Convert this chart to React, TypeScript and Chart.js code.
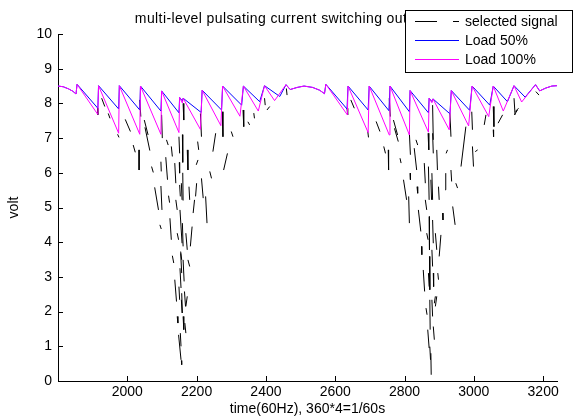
import React, { useEffect, useRef } from 'react';
import { Chart, registerables } from 'chart.js';

Chart.register(...registerables);

const X_MIN = 1800;
const X_MAX = 3240;
const xTickValues = [2000, 2200, 2400, 2600, 2800, 3000, 3200];
const yTickValues = [0, 1, 2, 3, 4, 5, 6, 7, 8, 9, 10];

const titleText = 'multi-level pulsating current switching output voltage';
const xLabel = 'time(60Hz), 360*4=1/60s';
const yLabel = 'volt';
const legendLabels = ['selected signal', 'Load 50%', 'Load 100%'];
const seriesColors = ['#000000', '#0000ff', '#ff00ff'];

// Load 50% (blue) vertices
const load50X = [
  1800, 1815, 1830, 1843, 1852, 1855, 1915, 1917, 1975, 1977, 2036, 2038, 2097, 2099,
  2149, 2151, 2159, 2161, 2213, 2216, 2272, 2275, 2330, 2335, 2382, 2396, 2440, 2458,
  2470, 2490, 2510, 2535, 2555, 2569, 2573, 2634, 2637, 2695, 2698, 2755, 2758, 2814,
  2816, 2869, 2871, 2879, 2882, 2931, 2935, 2988, 2995, 3046, 3056, 3097, 3116, 3148,
  3178, 3190, 3207, 3225, 3240,
];
const load50Y = [
  8.5, 8.48, 8.42, 8.35, 8.27, 8.55, 7.86, 8.51, 7.84, 8.51, 7.81, 8.5, 7.78, 8.36,
  7.73, 8.17, 8.07, 8.15, 7.74, 8.38, 7.81, 8.5, 7.95, 8.5, 8.05, 8.51, 8.2, 8.54,
  8.4, 8.46, 8.5, 8.46, 8.38, 8.28, 8.55, 7.84, 8.5, 7.81, 8.5, 7.79, 8.5, 7.76,
  8.37, 7.73, 8.15, 8.05, 8.13, 7.7, 8.37, 7.8, 8.5, 7.95, 8.5, 8.05, 8.51, 8.18,
  8.54, 8.36, 8.44, 8.5, 8.51,
];

// Load 100% (magenta) vertices
const load100X = [
  1800, 1815, 1830, 1843, 1852, 1855, 1915, 1917, 1975, 1977, 2036, 2038, 2097, 2099,
  2149, 2151, 2159, 2161, 2211, 2216, 2270, 2275, 2325, 2335, 2378, 2396, 2425, 2458,
  2470, 2490, 2510, 2535, 2555, 2569, 2573, 2635, 2637, 2695, 2698, 2756, 2758, 2814,
  2816, 2869, 2871, 2879, 2882, 2929, 2935, 2985, 2995, 3043, 3056, 3085, 3116, 3138,
  3178, 3190, 3207, 3225, 3240,
];
const load100Y = [
  8.5, 8.48, 8.42, 8.35, 8.27, 8.55, 7.68, 8.51, 7.14, 8.51, 7.11, 8.5, 7.11, 8.36,
  7.16, 8.17, 8.01, 8.15, 7.25, 8.38, 7.36, 8.5, 7.63, 8.5, 7.78, 8.51, 8.08, 8.54,
  8.4, 8.46, 8.5, 8.46, 8.38, 8.28, 8.55, 7.67, 8.5, 7.16, 8.5, 7.09, 8.5, 7.09,
  8.37, 7.17, 8.15, 8.02, 8.13, 7.24, 8.37, 7.35, 8.5, 7.62, 8.5, 7.78, 8.51, 8.04,
  8.54, 8.36, 8.44, 8.5, 8.51,
];

// selected signal: visible dashes [x1, y1, x2, y2]
const selectedStrokes = [
  // first trough
  [1914, 7.86, 1915, 7.67], [1926, 8.15, 1935, 7.91], [1945, 7.71, 1950, 7.57],
  [1972, 7.11, 1976, 7.02], [1994, 7.54, 2009, 7.19], [2017, 6.8, 2023, 6.59],
  [2034, 6.66, 2034, 6.08], [2036, 8.1, 2039, 7.62], [2049, 7.52, 2060, 7.09],
  [2051, 7.31, 2065, 6.64], [2070, 6.18, 2075, 6.01], [2079, 5.58, 2090, 4.93],
  [2094, 4.5, 2098, 4.38], [2099, 7.67, 2101, 7.0], [2097, 6.32, 2098, 6.04],
  [2097, 5.62, 2100, 4.93], [2111, 6.45, 2116, 5.8], [2119, 5.34, 2122, 5.14],
  [2123, 4.69, 2127, 4.07], [2130, 3.61, 2134, 3.4], [2137, 2.92, 2142, 2.29],
  [2144, 1.86, 2146, 1.67], [2148, 1.33, 2155, 0.61], [2156, 0.59, 2157, 0.47],
  [2149, 7.04, 2151, 6.56], [2150, 6.3, 2151, 5.99], [2151, 5.65, 2153, 5.32],
  [2152, 4.93, 2158, 3.97], [2154, 3.73, 2157, 3.49], [2152, 3.25, 2155, 2.68],
  [2156, 2.34, 2158, 1.96], [2159, 7.1, 2160, 6.3], [2160, 6.0, 2161, 5.2],
  [2161, 3.49, 2164, 2.87], [2165, 2.58, 2168, 2.15], [2166, 1.67, 2169, 1.38],
  [2169, 2.15, 2173, 2.44], [2175, 3.49, 2180, 3.3], [2182, 3.88, 2187, 4.45],
  [2190, 4.84, 2194, 5.22], [2197, 5.32, 2200, 5.7], [2199, 6.23, 2204, 6.37],
  [2203, 6.9, 2206, 6.66], [2161, 8.0, 2163, 7.52], [2211, 7.71, 2214, 7.04],
  [2214, 5.84, 2219, 5.27], [2226, 5.32, 2230, 4.55], [2238, 6.04, 2243, 5.84],
  [2247, 6.61, 2255, 7.14], [2274, 7.76, 2276, 7.04], [2278, 6.08, 2289, 6.56],
  [2300, 7.19, 2305, 7.04], [2334, 7.81, 2336, 7.33], [2348, 7.47, 2353, 7.38],
  [2365, 7.72, 2367, 7.57], [2396, 8.15, 2398, 7.95], [2403, 7.81, 2411, 7.91],
  [2459, 8.43, 2461, 8.24], [2156, 5.7, 2158, 5.22], [2159, 4.55, 2161, 3.88],
  [2154, 3.68, 2157, 3.11], [2149, 2.72, 2151, 2.34], [2157, 2.53, 2159, 1.96],
  [2161, 1.86, 2163, 1.48], [2153, 1.38, 2155, 1.0], [2113, 6.95, 2118, 6.8],
  [2127, 6.76, 2130, 6.47], [2137, 6.28, 2140, 5.7], [2140, 5.22, 2144, 4.93],
  [2144, 4.26, 2148, 4.07], [2173, 6.66, 2175, 6.08], [2178, 5.6, 2180, 5.22],
  [2169, 4.26, 2173, 3.78],
  // second trough
  [2634, 7.86, 2636, 7.67], [2645, 8.1, 2655, 7.86], [2694, 7.19, 2696, 7.02],
  [2718, 7.48, 2729, 7.19], [2740, 6.76, 2745, 6.56], [2753, 6.66, 2754, 6.08],
  [2756, 8.15, 2759, 7.62], [2768, 7.52, 2780, 7.09], [2771, 7.28, 2782, 6.9],
  [2787, 6.42, 2790, 6.28], [2797, 5.8, 2806, 5.22], [2814, 7.14, 2817, 6.52],
  [2816, 5.99, 2817, 5.8], [2812, 5.32, 2814, 4.55], [2828, 6.71, 2835, 6.08],
  [2836, 5.6, 2838, 5.41], [2840, 4.93, 2847, 4.31], [2849, 3.88, 2850, 3.64],
  [2854, 3.2, 2858, 2.58], [2862, 2.1, 2865, 1.91], [2867, 1.48, 2871, 0.95],
  [2876, 0.8, 2877, 0.18], [2869, 6.18, 2871, 5.22], [2871, 4.74, 2872, 3.78],
  [2872, 3.59, 2873, 2.63], [2873, 2.34, 2874, 1.48], [2881, 7.14, 2883, 6.56],
  [2879, 5.99, 2881, 5.22], [2881, 4.64, 2883, 3.97], [2883, 3.11, 2884, 2.72],
  [2886, 2.24, 2889, 2.44], [2883, 1.57, 2886, 1.19], [2893, 2.44, 2889, 2.15],
  [2896, 3.11, 2898, 2.92], [2900, 3.59, 2905, 4.21], [2910, 4.84, 2911, 4.64],
  [2917, 5.51, 2919, 5.99], [2920, 6.56, 2924, 6.66], [2934, 6.08, 2936, 5.75],
  [2939, 5.03, 2946, 4.5], [2948, 5.7, 2953, 5.56], [2963, 6.18, 2977, 7.33],
  [2996, 6.76, 2999, 6.18], [3004, 6.61, 3011, 6.66], [3030, 7.38, 3035, 7.67],
  [3056, 7.24, 3057, 7.04], [3070, 7.43, 3083, 7.67], [3117, 7.67, 3126, 7.81],
  [2881, 7.95, 2883, 6.95], [2931, 7.71, 2934, 7.04], [2994, 7.76, 2996, 7.24],
  [3056, 7.91, 3058, 7.33], [3116, 8.15, 3119, 7.67], [3119, 7.76, 3129, 7.86],
  [3179, 8.34, 3188, 8.24], [2868, 7.14, 2870, 6.66], [2876, 5.8, 2878, 5.22],
  [2879, 3.78, 2881, 3.3], [2869, 3.11, 2871, 2.72], [2879, 2.34, 2881, 1.86],
  [2873, 0.99, 2875, 0.61], [2833, 6.95, 2838, 6.8], [2857, 6.28, 2860, 5.7],
  [2860, 5.22, 2864, 4.93], [2864, 4.26, 2868, 4.07], [2893, 6.66, 2895, 6.08],
  [2898, 5.6, 2900, 5.22], [2889, 4.26, 2893, 3.78],
];

const FONT = '"Liberation Sans", Arial, Helvetica, sans-serif';
const FS = 14;

const decorPlugin = {
  id: 'matlabDecor',
  afterDatasetsDraw(chart: any) {
    const { ctx, chartArea: a, scales } = chart;
    const xs = scales.x;
    const ys = scales.y;
    ctx.save();
    ctx.strokeStyle = '#000';
    ctx.lineWidth = 1;
    ctx.beginPath();
    for (const v of xTickValues) {
      const p = Math.round(xs.getPixelForValue(v)) + 0.5;
      ctx.moveTo(p, a.bottom);
      ctx.lineTo(p, a.bottom - 5);
    }
    for (const v of yTickValues) {
      const p = Math.round(ys.getPixelForValue(v)) + 0.5;
      ctx.moveTo(a.left, p);
      ctx.lineTo(a.left + 5, p);
    }
    ctx.stroke();
    ctx.restore();
  },
  afterDraw(chart: any) {
    const { ctx, chartArea: a } = chart;
    ctx.save();
    ctx.fillStyle = '#000';
    ctx.font = `${FS}px ${FONT}`;
    ctx.textAlign = 'center';
    ctx.textBaseline = 'alphabetic';
    try { (ctx as any).letterSpacing = '0.4px'; } catch (e) {}
    ctx.fillText(titleText, (a.left + a.right) / 2, 23);
    try { (ctx as any).letterSpacing = '0px'; } catch (e) {}
    const bx = 405, by = 10, bw = 167, bh = 62;
    ctx.fillStyle = '#fff';
    ctx.fillRect(bx, by, bw, bh);
    ctx.strokeStyle = '#000';
    ctx.lineWidth = 1;
    ctx.strokeRect(bx + 0.5, by + 0.5, bw, bh);
    const rows = [21, 40, 59];
    for (let i = 0; i < 3; i++) {
      ctx.fillStyle = seriesColors[i];
      if (i === 0) {
        ctx.fillRect(415, rows[i], 22, 1);
        ctx.fillRect(453, rows[i], 6, 1);
      } else {
        ctx.fillRect(415, rows[i], 44, 1);
      }
      ctx.fillStyle = '#000';
      ctx.textAlign = 'left';
      ctx.fillText(legendLabels[i], 465, rows[i] + 5);
    }
    ctx.restore();
  },
};

export default function App() {
  const canvasRef = useRef<HTMLCanvasElement | null>(null);

  useEffect(() => {
    const canvas = canvasRef.current;
    if (!canvas) return;
    const strokeData: any[] = [];
    for (const s of selectedStrokes) {
      strokeData.push({ x: s[0], y: s[1] });
      strokeData.push({ x: s[2], y: s[3] });
      strokeData.push({ x: s[2], y: null });
    }
    const chart = new Chart(canvas, {
      type: 'line',
      data: {
        datasets: [
          {
            label: legendLabels[2],
            data: load100X.map((x, i) => ({ x, y: load100Y[i] })),
            borderColor: seriesColors[2],
            borderWidth: 1,
            pointRadius: 0,
            fill: false,
            tension: 0,
            order: 1,
          },
          {
            label: legendLabels[1],
            data: load50X.map((x, i) => ({ x, y: load50Y[i] })),
            borderColor: seriesColors[1],
            borderWidth: 1,
            pointRadius: 0,
            fill: false,
            tension: 0,
            order: 2,
          },
          {
            label: legendLabels[0],
            data: strokeData,
            borderColor: seriesColors[0],
            borderWidth: 1,
            pointRadius: 0,
            fill: false,
            tension: 0,
            spanGaps: false,
            order: 3,
          },
        ],
      },
      options: {
        animation: false,
        responsive: false,
        devicePixelRatio: 1,
        layout: { padding: { left: 0, right: 30, top: 34, bottom: 0 } },
        plugins: {
          legend: { display: false },
          title: { display: false },
          tooltip: { enabled: false },
        },
        scales: {
          x: {
            type: 'linear',
            min: X_MIN,
            max: X_MAX,
            afterBuildTicks: (s: any) => {
              s.ticks = xTickValues.map((v) => ({ value: v }));
            },
            afterFit: (s: any) => {
              s.height = 37;
            },
            grid: { display: false, drawTicks: false },
            border: { display: true, color: '#000', width: 1 },
            ticks: {
              color: '#000',
              font: { family: FONT, size: FS },
              padding: 3,
              maxRotation: 0,
              autoSkip: false,
              callback: (v: any) => String(v),
            },
            title: {
              display: true,
              text: xLabel,
              color: '#000',
              font: { family: FONT, size: FS },
              padding: { top: 0, bottom: 0 },
            },
          },
          y: {
            type: 'linear',
            min: 0,
            max: 10,
            afterBuildTicks: (s: any) => {
              s.ticks = yTickValues.map((v) => ({ value: v }));
            },
            afterFit: (s: any) => {
              s.width = 58;
            },
            grid: { display: false, drawTicks: false },
            border: { display: true, color: '#000', width: 1 },
            ticks: {
              color: '#000',
              font: { family: FONT, size: FS },
              padding: 6,
              autoSkip: false,
              callback: (v: any) => String(v),
            },
            title: {
              display: true,
              text: yLabel,
              color: '#000',
              font: { family: FONT, size: FS },
              padding: { top: 6, bottom: 0 },
            },
          },
        },
      },
      plugins: [decorPlugin],
    } as any);
    return () => chart.destroy();
  }, []);

  return (
    <div style={{ position: 'absolute', left: 0, top: 0, width: 587, height: 418, background: '#fff' }}>
      <canvas ref={canvasRef} width={587} height={418} style={{ display: 'block' }} />
    </div>
  );
}
